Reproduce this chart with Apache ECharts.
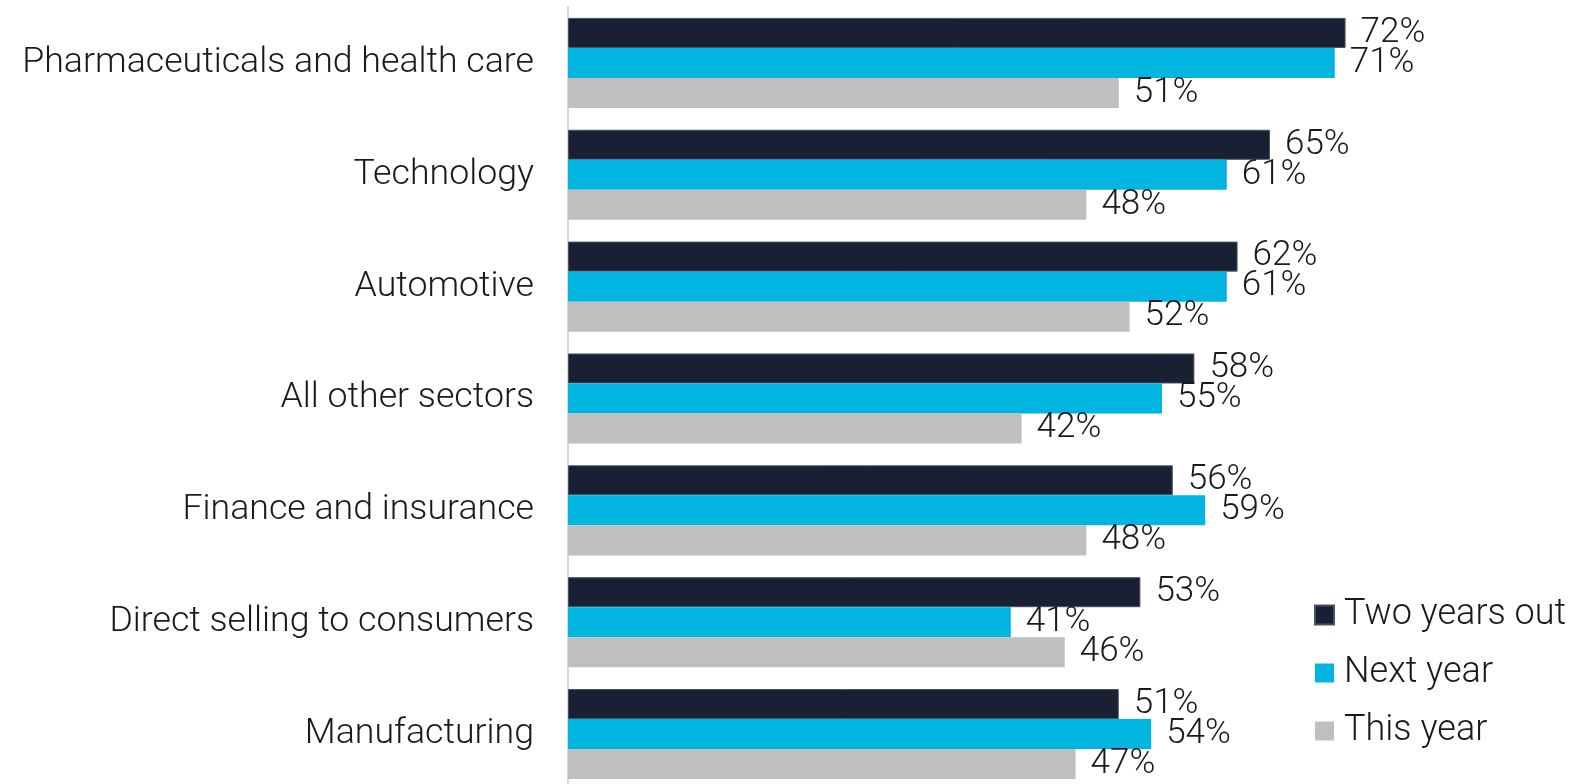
<!DOCTYPE html>
<html>
<head>
<meta charset="utf-8">
<script src="https://cdn.jsdelivr.net/npm/echarts@6/dist/echarts.min.js"></script>
<style>
html,body{margin:0;padding:0;background:#fff;overflow:hidden;}
#chart{width:1585px;height:800px;}
</style>
</head>
<body>
<div id="chart"></div>
<script>
const categories = ["Pharmaceuticals and health care","Technology","Automotive","All other sectors","Finance and insurance","Direct selling to consumers","Manufacturing"];
const seriesNames = ["Two years out","Next year","This year"];
const twoYearsOut = [72,65,62,58,56,53,51];
const nextYear = [71,61,61,55,59,41,54];
const thisYear = [51,48,52,42,48,46,47];
const colors = ["#1a2034","#00b5e0","#bfbfbf"];

const chart = echarts.init(document.getElementById('chart'));
const font = 'Roboto';
const labelStyle = {
  show: true, position: 'right', distance: 15,
  formatter: p => p.value + '%',
  fontFamily: font, fontWeight: 300, fontSize: 35, color: '#1a1a1a',
  padding: [7, 0, 0, 0]
};
function mk(name, data, color, extra) {
  return Object.assign({
    name: name, type: 'bar', data: data,
    barGap: '0%', barCategoryGap: '19.5%',
    itemStyle: { color: color },
    label: labelStyle,
    animation: false
  }, extra || {});
}
chart.setOption({
  animation: false,
  grid: { left: 568, top: 7, height: 783, right: 0, containLabel: false },
  xAxis: { type: 'value', min: 0, max: 94.17, show: false },
  yAxis: {
    type: 'category', data: categories, inverse: true,
    axisLine: { show: true, lineStyle: { color: '#d9d9d9', width: 2 } },
    axisTick: { show: false },
    axisLabel: { margin: 34, fontFamily: font, fontWeight: 300, fontSize: 35.7, color: '#1a1a1a', padding: [4, 0, 0, 0] },
    splitLine: { show: false }
  },
  legend: {
    orient: 'vertical', left: 1314, top: 595, padding: 0,
    data: seriesNames, icon: 'rect', itemWidth: 19, itemHeight: 19, itemGap: 18,
    textStyle: { fontFamily: font, fontWeight: 300, fontSize: 36, color: '#1a1a1a', lineHeight: 40, padding: [0,0,0,5] }
  },
  series: [
    mk(seriesNames[0], twoYearsOut, colors[0], { itemStyle: { color: colors[0], borderColor: '#4a5062', borderWidth: 1 } }),
    mk(seriesNames[1], nextYear, colors[1]),
    mk(seriesNames[2], thisYear, colors[2])
  ]
});
</script>
</body>
</html>
